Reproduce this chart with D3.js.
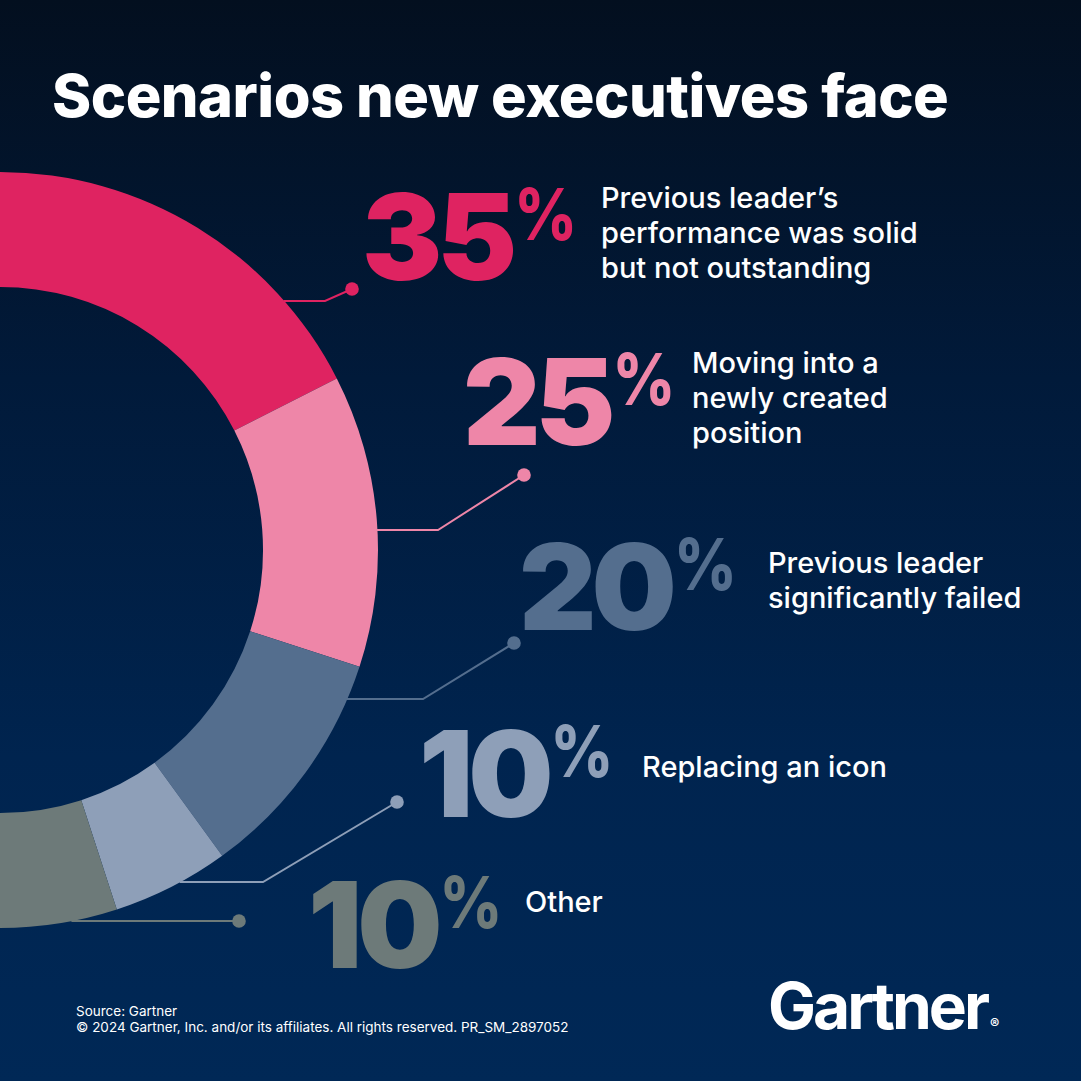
<!DOCTYPE html>
<html>
<head>
<meta charset="utf-8">
<script src="https://cdn.jsdelivr.net/npm/d3@7/dist/d3.min.js"></script>
<style>
  html, body { margin: 0; padding: 0; background: #011a3a; }
  svg { display: block; }
</style>
</head>
<body>
<svg id="chart" width="1081" height="1081"></svg>
<script>
// ---------------- DATA ----------------
const categories = [
  "Previous leader’s performance was solid but not outstanding",
  "Moving into a newly created position",
  "Previous leader significantly failed",
  "Replacing an icon",
  "Other"
];
const values = [35, 25, 20, 10, 10];
const labelLines = [
  ["Previous leader’s", "performance was solid", "but not outstanding"],
  ["Moving into a", "newly created", "position"],
  ["Previous leader", "significantly failed"],
  ["Replacing an icon"],
  ["Other"]
];
const colors = ["#df2361", "#ee86a8", "#546e8e", "#8e9fb8", "#6d7a79"];

const title = "Scenarios new executives face";
const sourceLines = ["Source: Gartner", "© 2024 Gartner, Inc. and/or its affiliates. All rights reserved. PR_SM_2897052"];

// ---------------- LAYOUT ----------------
const W = 1081, H = 1081;
const cx = 0, cy = 550, outerR = 378, innerR = 263;
const layout = [
  { nx: 362, ny: 280, lx: 601, ly: 208, lineY: 301, elbowX: 325, dotX: 352, dotY: 289 },
  { nx: 463, ny: 445, lx: 692, ly: 373, lineY: 530, elbowX: 438, dotX: 524, dotY: 475 },
  { nx: 519, ny: 630, lx: 768, ly: 573, lineY: 699, elbowX: 423, dotX: 514, dotY: 643 },
  { nx: 419, ny: 817, lx: 642, ly: 777, lineY: 882, elbowX: 263, dotX: 397, dotY: 802 },
  { nx: 308, ny: 968, lx: 525, ly: 912, lineY: 921, elbowX: null, dotX: 239, dotY: 921 }
];

const svg = d3.select("#chart");
const defs = svg.append("defs");
const grad = defs.append("linearGradient").attr("id", "bg")
  .attr("x1", 0).attr("y1", 0).attr("x2", 0).attr("y2", 1);
grad.append("stop").attr("offset", "0%").attr("stop-color", "#030f1f");
grad.append("stop").attr("offset", "35%").attr("stop-color", "#011a3a");
grad.append("stop").attr("offset", "70%").attr("stop-color", "#00244f");
grad.append("stop").attr("offset", "100%").attr("stop-color", "#002856");
svg.append("rect").attr("width", W).attr("height", H).attr("fill", "url(#bg)");

// ---------------- DONUT ----------------
const pie = d3.pie().sort(null).value(d => d).startAngle(0).endAngle(Math.PI);
const arcs = pie(values);
const arc = d3.arc().innerRadius(innerR).outerRadius(outerR);
const g = svg.append("g").attr("transform", `translate(${cx},${cy})`);
g.selectAll("path").data(arcs).join("path")
  .attr("d", arc)
  .attr("fill", (d, i) => colors[i]);

// ---------------- LEADERS ----------------
const lines = svg.append("g");
layout.forEach((L, i) => {
  const dy = L.lineY - cy;
  const sx = cx + Math.sqrt(outerR * outerR - dy * dy) - 1;
  const pts = [[sx, L.lineY]];
  if (L.elbowX !== null) pts.push([L.elbowX, L.lineY]);
  pts.push([L.dotX, L.dotY]);
  lines.append("path")
    .attr("d", d3.line()(pts))
    .attr("fill", "none")
    .attr("stroke", colors[i])
    .attr("stroke-width", 2);
  lines.append("circle").attr("cx", L.dotX).attr("cy", L.dotY).attr("r", 6.8).attr("fill", colors[i]);
});

// ---------------- NUMBERS & LABELS ----------------
const ann = svg.append("g");
values.forEach((v, i) => {
  const L = layout[i];
  const num = ann.append("text")
    .attr("x", L.nx).attr("y", L.ny)
    .attr("fill", colors[i])
    .style("font-family", "Inter, 'Noto Sans', sans-serif")
    .style("font-weight", 900)
    .style("font-size", "120px")
    .style("letter-spacing", "-5px")
    .text(String(v));
  const bb = num.node().getBBox();
  const px = L.nx + num.node().getComputedTextLength() + 2;
  ann.append("text")
    .attr("transform", `translate(${px},${L.ny - 40}) scale(0.86,1)`)
    .attr("fill", colors[i])
    .style("font-family", "Inter, 'Noto Sans', sans-serif")
    .style("font-weight", 800)
    .style("font-size", "71px")
    .text("%");
  const t = ann.append("text")
    .attr("x", L.lx).attr("y", L.ly)
    .attr("fill", "#ffffff")
    .style("font-family", "Inter, 'Noto Sans', sans-serif")
    .style("font-weight", 500)
    .style("font-size", "29px");
  labelLines[i].forEach((ln, k) => {
    t.append("tspan").attr("x", L.lx).attr("dy", k === 0 ? 0 : 35).text(ln);
  });
});

// ---------------- TITLE ----------------
const tt = svg.append("text")
  .attr("x", 52).attr("y", 117)
  .attr("fill", "#ffffff")
  .style("font-family", "Inter, 'Noto Sans', sans-serif")
  .style("font-weight", 800)
  .style("font-size", "58px")
  .style("letter-spacing", "-0.5px")
  .text(title);
const tw = tt.node().getComputedTextLength();
tt.style("font-size", (58 * 896 / tw).toFixed(2) + "px");

// ---------------- SOURCE ----------------
const src = svg.append("text")
  .attr("x", 76).attr("y", 1016)
  .attr("fill", "#ffffff")
  .style("font-family", "Inter, 'Noto Sans', sans-serif")
  .style("font-size", "13.5px");
sourceLines.forEach((s, k) => {
  src.append("tspan").attr("x", 76).attr("dy", k === 0 ? 0 : 16).text(s);
});

// ---------------- LOGO ----------------
const logo = svg.append("text")
  .attr("x", 768).attr("y", 1029)
  .attr("fill", "#ffffff")
  .style("font-family", "Inter, 'Noto Sans', sans-serif")
  .style("font-weight", 700)
  .style("font-size", "64px")
  .style("letter-spacing", "-3px")
  .text("Gartner");
const lw = logo.node().getComputedTextLength();
svg.append("text")
  .attr("x", 768 + lw + 3).attr("y", 1029)
  .attr("fill", "#ffffff")
  .style("font-family", "Inter, 'Noto Sans', sans-serif")
  .style("font-weight", 700)
  .style("font-size", "14px")
  .text("®");
</script>
</body>
</html>
